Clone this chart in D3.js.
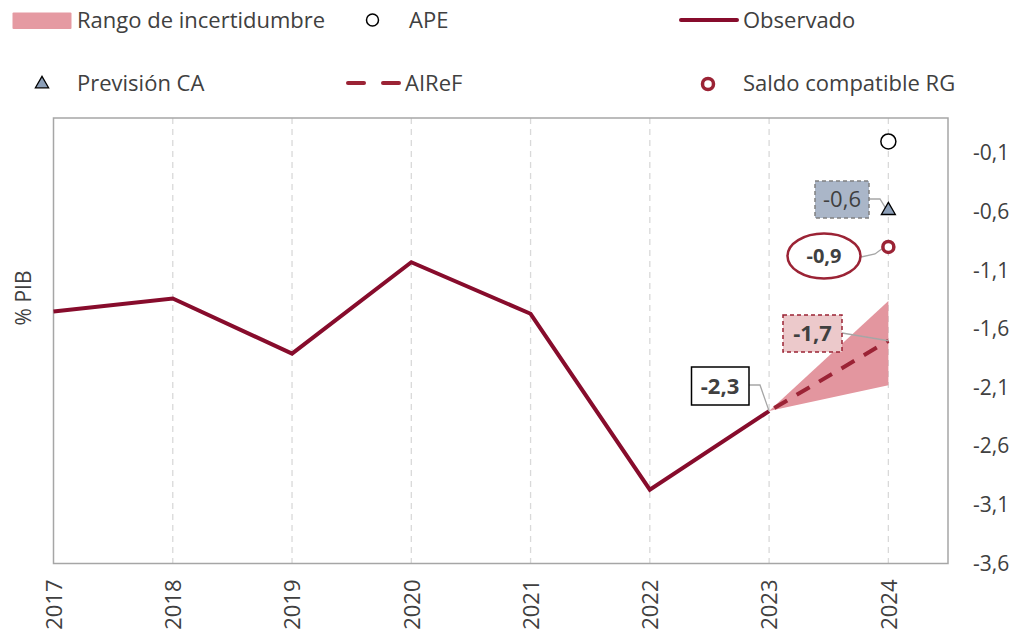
<!DOCTYPE html>
<html><head><meta charset="utf-8">
<script src="https://cdn.jsdelivr.net/npm/d3@7"></script>
<style>body{margin:0;background:#fff}svg{display:block;font-family:"Open Sans",Lato,sans-serif}</style>
</head><body><svg id="c" width="1024" height="638"></svg>
<script>
const years = [2017,2018,2019,2020,2021,2022,2023,2024];
const observedYears = [2017,2018,2019,2020,2021,2022,2023];
const observed = [-1.45,-1.34,-1.81,-1.03,-1.47,-2.97,-2.3];
const airefYears = [2023,2024];
const airef = [-2.3,-1.7];
const bandUpper = [-2.3,-1.36];
const bandLower = [-2.3,-2.08];
const apeYear = 2024, ape = 0.0;
const caYear = 2024, previsionCA = -0.58;
const rgYear = 2024, saldoRG = -0.9;
const yTicks = [-3.6,-3.1,-2.6,-2.1,-1.6,-1.1,-0.6,-0.1];
const labelVals = {obs2023:"-2,3", aire2024:"-1,7", ca:"-0,6", rg:"-0,9"};

const svg = d3.select("#c");
const L=53.5,R=948,T=118,B=563.5;
const x = d3.scaleLinear().domain([2017,2024.5]).range([L,R]);
const y = d3.scaleLinear().domain([-3.6,0.2]).range([B,T]);
const txt="#404040";
const fmt = v => d3.format(".1f")(v).replace(".",",").replace("−","-");

// grid
svg.append("g").selectAll("line").data(years.slice(1)).join("line")
  .attr("x1",d=>x(d)).attr("x2",d=>x(d)).attr("y1",T).attr("y2",B)
  .attr("stroke","#d9d9d9").attr("stroke-width",1.3).attr("stroke-dasharray","6,5");

// frame
svg.append("rect").attr("x",L).attr("y",T).attr("width",R-L).attr("height",B-T)
  .attr("fill","none").attr("stroke","#a6a6a6").attr("stroke-width",1.5);

// right axis
const ya = d3.axisRight(y).tickValues(yTicks).tickSize(0).tickPadding(25).tickFormat(fmt);
const gy = svg.append("g").attr("transform",`translate(${R},0)`).call(ya);
gy.select(".domain").remove();
gy.selectAll("text").attr("font-size",21).attr("fill",txt).attr("font-family","Open Sans");

// bottom axis
const xa = d3.axisBottom(x).tickValues(years).tickSize(0).tickFormat(d3.format("d"));
const gx = svg.append("g").attr("transform",`translate(0,${B})`).call(xa);
gx.select(".domain").remove();
gx.selectAll("text").attr("font-size",22).attr("fill",txt).attr("font-family","Open Sans")
  .attr("transform","rotate(-90)").attr("text-anchor","end").attr("dy","0.35em")
  .attr("x",-16).attr("y",0);

// y label
svg.append("text").attr("transform","translate(31,298) rotate(-90)").attr("text-anchor","middle")
  .attr("font-size",21).attr("fill",txt).text("% PIB");

// band
const bandData = airefYears.map((d,i)=>({x:d,u:bandUpper[i],l:bandLower[i]}));
svg.append("path").datum(bandData)
  .attr("d",d3.area().x(d=>x(d.x)).y0(d=>y(d.l)).y1(d=>y(d.u)))
  .attr("fill","#e3969f");

// observed
svg.append("path").datum(observedYears.map((d,i)=>[d,observed[i]]))
  .attr("d",d3.line().x(d=>x(d[0])).y(d=>y(d[1])))
  .attr("fill","none").attr("stroke","#870c2c").attr("stroke-width",4).attr("stroke-linejoin","miter");

// airef dashed
svg.append("path").datum(airefYears.map((d,i)=>[d,airef[i]]))
  .attr("d",d3.line().x(d=>x(d[0])).y(d=>y(d[1])))
  .attr("fill","none").attr("stroke","#9b2335").attr("stroke-width",4)
  .attr("stroke-dasharray","15,11").attr("stroke-dashoffset",-6);

// leaders
const leader = (pts)=>svg.append("polyline").attr("points",pts.map(p=>p.join(",")).join(" "))
  .attr("fill","none").attr("stroke","#a6a6a6").attr("stroke-width",1.3);
leader([[749,385],[760,385],[x(2023),y(-2.3)]]);
leader([[842,333],[x(2024),y(-1.7)]]);
leader([[869,199],[880,199],[x(caYear)-2,y(previsionCA)]]);
leader([[861,257],[875,254],[x(rgYear)-4,y(saldoRG)]]);

// markers
svg.append("circle").attr("cx",x(apeYear)).attr("cy",y(ape)).attr("r",7.5)
  .attr("fill","#fff").attr("stroke","#000").attr("stroke-width",1.5);
svg.append("path").attr("d",d3.symbol(d3.symbolTriangle,85)())
  .attr("transform",`translate(${x(caYear)},${y(previsionCA)+1})`)
  .attr("fill","#8c9fb8").attr("stroke","#000").attr("stroke-width",1.3);
svg.append("circle").attr("cx",x(rgYear)).attr("cy",y(saldoRG)).attr("r",5.5)
  .attr("fill","#fff").attr("stroke","#9b2335").attr("stroke-width",3.5);

// label boxes
function box(x0,y0,w,h,fill,stroke,dash,sw){
  svg.append("rect").attr("x",x0).attr("y",y0).attr("width",w).attr("height",h)
    .attr("fill",fill).attr("stroke",stroke).attr("stroke-width",sw).attr("stroke-dasharray",dash);
}
function label(cx,cy,t,bold,size){
  svg.append("text").attr("x",cx).attr("y",cy).attr("text-anchor","middle").attr("dy","0.36em")
    .attr("font-size",size).attr("font-weight",bold?"bold":"normal").attr("fill",txt).text(t);
}
box(691.5,367,57.5,38,"#fff","#000",null,1.5);
label(720,386,labelVals.obs2023,true,22);
box(783,315,59,37,"#ecc9cb","#9b2335","4,3",1.5);
label(812.5,333.5,labelVals.aire2024,true,22);
box(815,181,54,37,"#aab6c8","#808080","4,3",1.5);
label(842,199.5,labelVals.ca,false,22);
svg.append("ellipse").attr("cx",824).attr("cy",256).attr("rx",36.5).attr("ry",22.5)
  .attr("fill","#fff").attr("stroke","#9b2335").attr("stroke-width",2.5);
label(824,256,labelVals.rg,true,20);

// legend
const lg = svg.append("g").attr("font-size",22).attr("fill",txt);
lg.append("rect").attr("x",12.5).attr("y",12.5).attr("width",59).attr("height",16.5).attr("rx",1).attr("fill","#e59aa2");
lg.append("text").attr("x",77).attr("y",20).attr("dy","0.35em").text("Rango de incertidumbre");
lg.append("circle").attr("cx",372.5).attr("cy",20).attr("r",6).attr("fill","#fff").attr("stroke","#000").attr("stroke-width",1.5);
lg.append("text").attr("x",409).attr("y",20).attr("dy","0.35em").text("APE");
lg.append("line").attr("x1",681).attr("x2",737).attr("y1",20).attr("y2",20).attr("stroke","#870c2c").attr("stroke-width",4).attr("stroke-linecap","round");
lg.append("text").attr("x",743).attr("y",20).attr("dy","0.35em").text("Observado");
lg.append("path").attr("d",d3.symbol(d3.symbolTriangle,75)()).attr("transform","translate(42,84)")
  .attr("fill","#8c9fb8").attr("stroke","#000").attr("stroke-width",1.3);
lg.append("text").attr("x",77).attr("y",83).attr("dy","0.35em").text("Previsión CA");
lg.append("line").attr("x1",348).attr("x2",364).attr("y1",83).attr("y2",83).attr("stroke","#9b2335").attr("stroke-width",4).attr("stroke-linecap","round");
lg.append("line").attr("x1",383).attr("x2",399).attr("y1",83).attr("y2",83).attr("stroke","#9b2335").attr("stroke-width",4).attr("stroke-linecap","round");
lg.append("text").attr("x",405).attr("y",83).attr("dy","0.35em").text("AIReF");
lg.append("circle").attr("cx",708).attr("cy",84).attr("r",5.5).attr("fill","#fff").attr("stroke","#9b2335").attr("stroke-width",3.5);
lg.append("text").attr("x",743).attr("y",83).attr("dy","0.35em").text("Saldo compatible RG");
</script></body></html>
